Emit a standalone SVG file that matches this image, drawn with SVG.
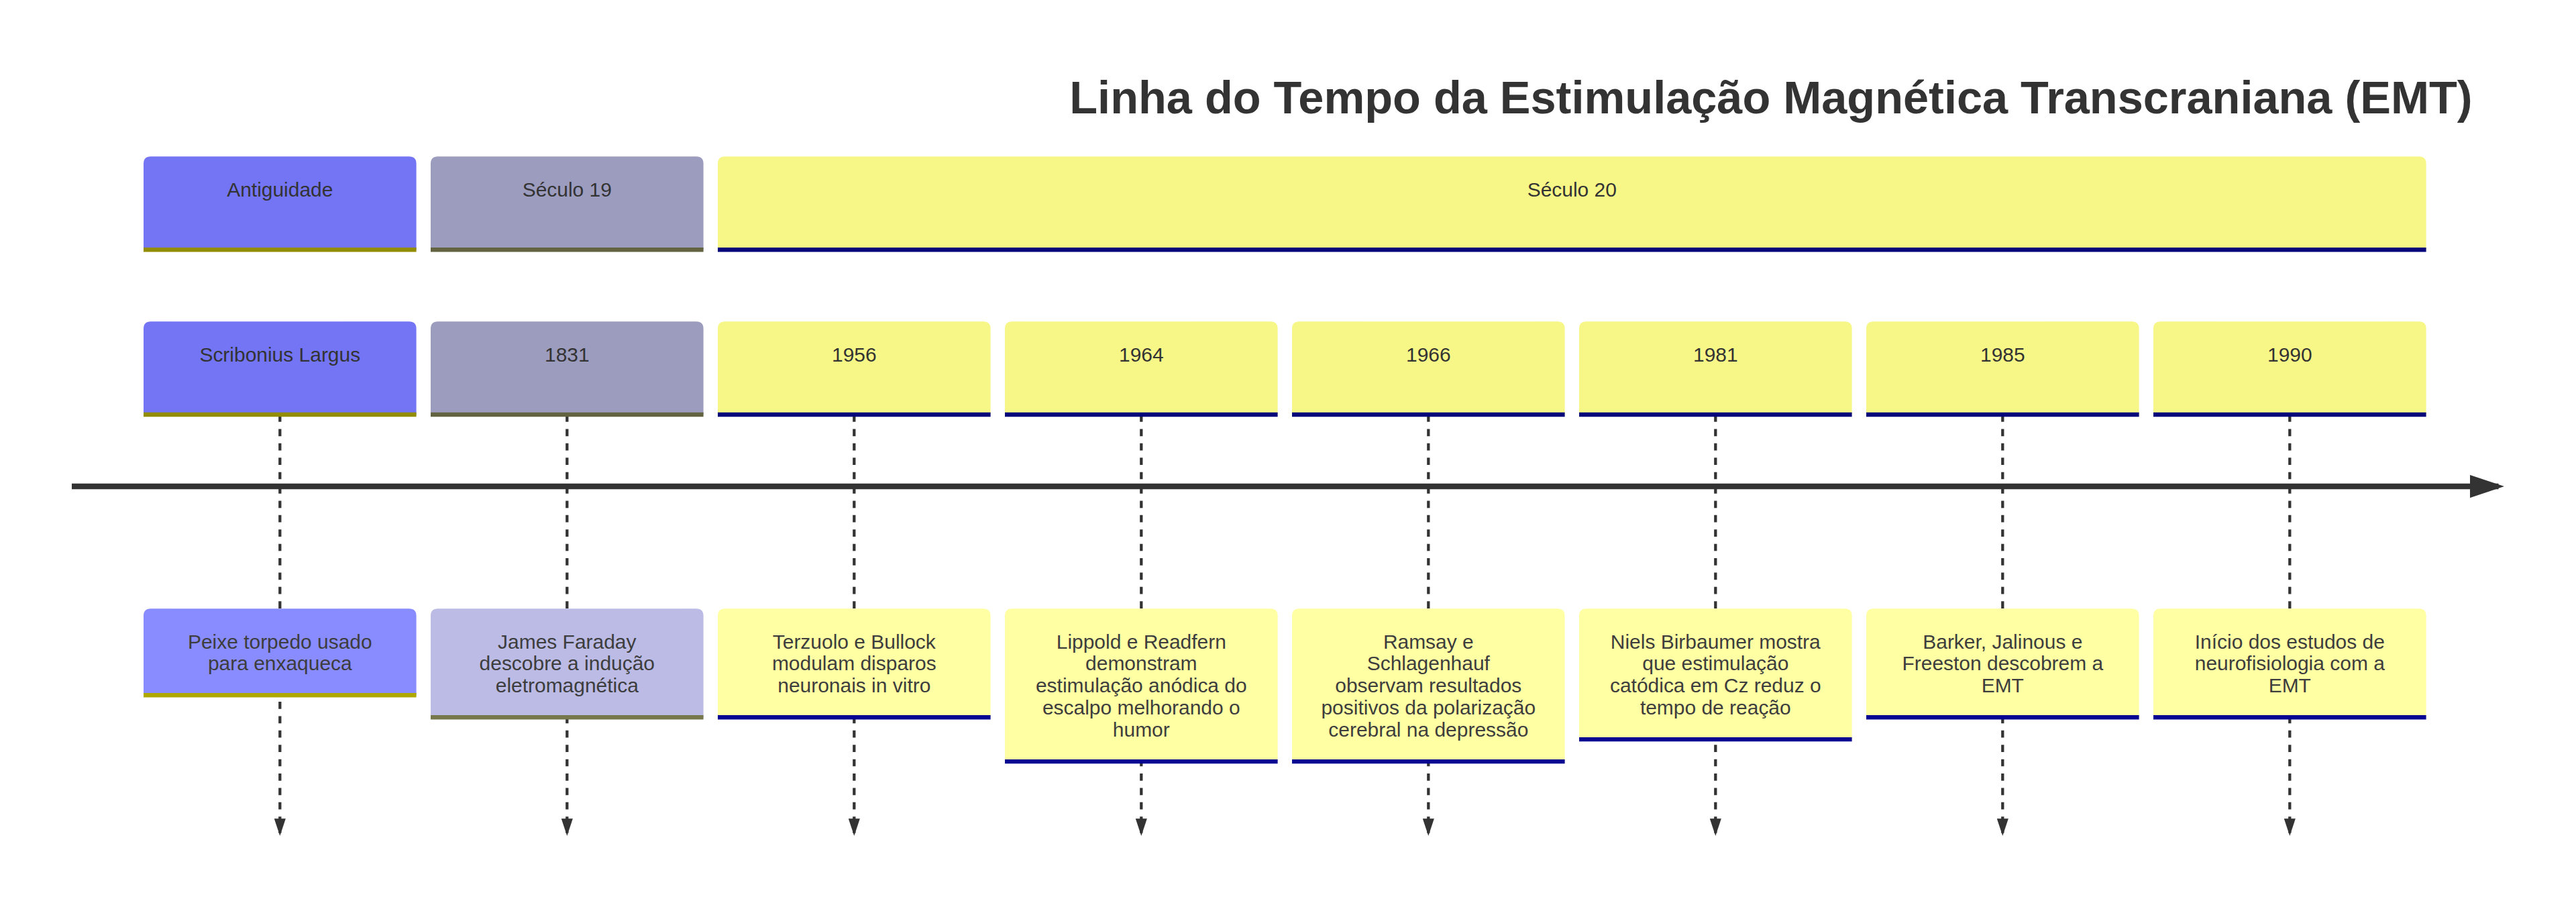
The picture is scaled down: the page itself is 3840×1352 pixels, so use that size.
<svg xmlns="http://www.w3.org/2000/svg" width="3840" height="1352" viewBox="0 0 3840 1352">
<style>
text{font-family:"Liberation Sans",Arial,sans-serif;}
.t{font-size:14px;fill:#333;text-anchor:middle;dominant-baseline:middle;}
.te{font-size:14px;fill:#3d3d3d;text-anchor:middle;dominant-baseline:middle;}
.title{font-size:32px;font-weight:bold;fill:#333;}
.s0 path{fill:#7375F5}.s0 line{stroke:#918C00;stroke-width:3}
.s1 path{fill:#9C9CBF}.s1 line{stroke:#636341;stroke-width:3}
.s2 path{fill:#F7F788}.s2 line{stroke:#04047A;stroke-width:3}
.e0 path{fill:#898CFF}.e0 line{stroke:#AEA800;stroke-width:3}
.e1 path{fill:#BBBBE5}.e1 line{stroke:#77774E;stroke-width:3}
.e2 path{fill:#FFFFA3}.e2 line{stroke:#050592;stroke-width:3}
.dash{stroke:#333;stroke-width:2;stroke-dasharray:5,5;fill:none;marker-end:url(#arrowhead)}
.axis{stroke:#333;stroke-width:4;fill:none;marker-end:url(#arrowhead)}
</style>
<defs>
<marker id="arrowhead" refX="5" refY="2" markerWidth="6" markerHeight="4" orient="auto"><path d="M0,0 V4 L6,2 Z" fill="#333"/></marker>
</defs>
<rect width="3840" height="1352" fill="#fff"/>
<g transform="translate(0,126.3) scale(2.14)">
<text class="title" x="745" y="20">Linha do Tempo da Estimulação Magnética Transcraniana (EMT)</text>

<g id="connectors">
<line class="dash" x1="195" y1="229.8" x2="195" y2="521.2"/>
<line class="dash" x1="395" y1="229.8" x2="395" y2="521.2"/>
<line class="dash" x1="595" y1="229.8" x2="595" y2="521.2"/>
<line class="dash" x1="795" y1="229.8" x2="795" y2="521.2"/>
<line class="dash" x1="995" y1="229.8" x2="995" y2="521.2"/>
<line class="dash" x1="1195" y1="229.8" x2="1195" y2="521.2"/>
<line class="dash" x1="1395" y1="229.8" x2="1395" y2="521.2"/>
<line class="dash" x1="1595" y1="229.8" x2="1595" y2="521.2"/>
</g>

<!-- sections -->
<g id="section-antiguidade" class="s0" transform="translate(100,50)">
<path d="M0 59.9 v-54.9 q0,-5 5,-5 h180 q5,0 5,5 v59.9 H0 Z"/><line x1="0" y1="64.9" x2="190" y2="64.9"/>
<text class="t" x="95" y="10"><tspan x="95" dy="14">Antiguidade</tspan></text>
</g>
<g id="section-seculo19" class="s1" transform="translate(300,50)">
<path d="M0 59.9 v-54.9 q0,-5 5,-5 h180 q5,0 5,5 v59.9 H0 Z"/><line x1="0" y1="64.9" x2="190" y2="64.9"/>
<text class="t" x="95" y="10"><tspan x="95" dy="14">Século 19</tspan></text>
</g>
<g id="section-seculo20" class="s2" transform="translate(500,50)">
<path d="M0 59.9 v-54.9 q0,-5 5,-5 h1180 q5,0 5,5 v59.9 H0 Z"/><line x1="0" y1="64.9" x2="1190" y2="64.9"/>
<text class="t" x="595" y="10"><tspan x="595" dy="14">Século 20</tspan></text>
</g>

<!-- tasks -->
<g id="task-scribonius" class="s0" transform="translate(100,164.9)">
<path d="M0 59.9 v-54.9 q0,-5 5,-5 h180 q5,0 5,5 v59.9 H0 Z"/><line x1="0" y1="64.9" x2="190" y2="64.9"/>
<text class="t" x="95" y="10"><tspan x="95" dy="14">Scribonius Largus</tspan></text>
</g>
<g id="task-1831" class="s1" transform="translate(300,164.9)">
<path d="M0 59.9 v-54.9 q0,-5 5,-5 h180 q5,0 5,5 v59.9 H0 Z"/><line x1="0" y1="64.9" x2="190" y2="64.9"/>
<text class="t" x="95" y="10"><tspan x="95" dy="14">1831</tspan></text>
</g>
<g id="task-1956" class="s2" transform="translate(500,164.9)">
<path d="M0 59.9 v-54.9 q0,-5 5,-5 h180 q5,0 5,5 v59.9 H0 Z"/><line x1="0" y1="64.9" x2="190" y2="64.9"/>
<text class="t" x="95" y="10"><tspan x="95" dy="14">1956</tspan></text>
</g>
<g id="task-1964" class="s2" transform="translate(700,164.9)">
<path d="M0 59.9 v-54.9 q0,-5 5,-5 h180 q5,0 5,5 v59.9 H0 Z"/><line x1="0" y1="64.9" x2="190" y2="64.9"/>
<text class="t" x="95" y="10"><tspan x="95" dy="14">1964</tspan></text>
</g>
<g id="task-1966" class="s2" transform="translate(900,164.9)">
<path d="M0 59.9 v-54.9 q0,-5 5,-5 h180 q5,0 5,5 v59.9 H0 Z"/><line x1="0" y1="64.9" x2="190" y2="64.9"/>
<text class="t" x="95" y="10"><tspan x="95" dy="14">1966</tspan></text>
</g>
<g id="task-1981" class="s2" transform="translate(1100,164.9)">
<path d="M0 59.9 v-54.9 q0,-5 5,-5 h180 q5,0 5,5 v59.9 H0 Z"/><line x1="0" y1="64.9" x2="190" y2="64.9"/>
<text class="t" x="95" y="10"><tspan x="95" dy="14">1981</tspan></text>
</g>
<g id="task-1985" class="s2" transform="translate(1300,164.9)">
<path d="M0 59.9 v-54.9 q0,-5 5,-5 h180 q5,0 5,5 v59.9 H0 Z"/><line x1="0" y1="64.9" x2="190" y2="64.9"/>
<text class="t" x="95" y="10"><tspan x="95" dy="14">1985</tspan></text>
</g>
<g id="task-1990" class="s2" transform="translate(1500,164.9)">
<path d="M0 59.9 v-54.9 q0,-5 5,-5 h180 q5,0 5,5 v59.9 H0 Z"/><line x1="0" y1="64.9" x2="190" y2="64.9"/>
<text class="t" x="95" y="10"><tspan x="95" dy="14">1990</tspan></text>
</g>

<!-- events -->
<g id="event-peixe" class="e0" transform="translate(100,364.9)">
<path d="M0 55.3 v-50.3 q0,-5 5,-5 h180 q5,0 5,5 v55.3 H0 Z"/><line x1="0" y1="60.3" x2="190" y2="60.3"/>
<text class="te" x="95" y="10"><tspan x="95" y="24">Peixe torpedo usado</tspan><tspan x="95" y="39.4">para enxaqueca</tspan></text>
</g>
<g id="event-faraday" class="e1" transform="translate(300,364.9)">
<path d="M0 70.7 v-65.7 q0,-5 5,-5 h180 q5,0 5,5 v70.7 H0 Z"/><line x1="0" y1="75.7" x2="190" y2="75.7"/>
<text class="te" x="95" y="10"><tspan x="95" y="24">James Faraday</tspan><tspan x="95" y="39.4">descobre a indução</tspan><tspan x="95" y="54.8">eletromagnética</tspan></text>
</g>
<g id="event-terzuolo" class="e2" transform="translate(500,364.9)">
<path d="M0 70.7 v-65.7 q0,-5 5,-5 h180 q5,0 5,5 v70.7 H0 Z"/><line x1="0" y1="75.7" x2="190" y2="75.7"/>
<text class="te" x="95" y="10"><tspan x="95" y="24">Terzuolo e Bullock</tspan><tspan x="95" y="39.4">modulam disparos</tspan><tspan x="95" y="54.8">neuronais in vitro</tspan></text>
</g>
<g id="event-lippold" class="e2" transform="translate(700,364.9)">
<path d="M0 101.5 v-96.5 q0,-5 5,-5 h180 q5,0 5,5 v101.5 H0 Z"/><line x1="0" y1="106.5" x2="190" y2="106.5"/>
<text class="te" x="95" y="10"><tspan x="95" y="24">Lippold e Readfern</tspan><tspan x="95" y="39.4">demonstram</tspan><tspan x="95" y="54.8">estimulação anódica do</tspan><tspan x="95" y="70.2">escalpo melhorando o</tspan><tspan x="95" y="85.6">humor</tspan></text>
</g>
<g id="event-ramsay" class="e2" transform="translate(900,364.9)">
<path d="M0 101.5 v-96.5 q0,-5 5,-5 h180 q5,0 5,5 v101.5 H0 Z"/><line x1="0" y1="106.5" x2="190" y2="106.5"/>
<text class="te" x="95" y="10"><tspan x="95" y="24">Ramsay e</tspan><tspan x="95" y="39.4">Schlagenhauf</tspan><tspan x="95" y="54.8">observam resultados</tspan><tspan x="95" y="70.2">positivos da polarização</tspan><tspan x="95" y="85.6">cerebral na depressão</tspan></text>
</g>
<g id="event-birbaumer" class="e2" transform="translate(1100,364.9)">
<path d="M0 86.1 v-81.1 q0,-5 5,-5 h180 q5,0 5,5 v86.1 H0 Z"/><line x1="0" y1="91.1" x2="190" y2="91.1"/>
<text class="te" x="95" y="10"><tspan x="95" y="24">Niels Birbaumer mostra</tspan><tspan x="95" y="39.4">que estimulação</tspan><tspan x="95" y="54.8">catódica em Cz reduz o</tspan><tspan x="95" y="70.2">tempo de reação</tspan></text>
</g>
<g id="event-barker" class="e2" transform="translate(1300,364.9)">
<path d="M0 70.7 v-65.7 q0,-5 5,-5 h180 q5,0 5,5 v70.7 H0 Z"/><line x1="0" y1="75.7" x2="190" y2="75.7"/>
<text class="te" x="95" y="10"><tspan x="95" y="24">Barker, Jalinous e</tspan><tspan x="95" y="39.4">Freeston descobrem a</tspan><tspan x="95" y="54.8">EMT</tspan></text>
</g>
<g id="event-inicio" class="e2" transform="translate(1500,364.9)">
<path d="M0 70.7 v-65.7 q0,-5 5,-5 h180 q5,0 5,5 v70.7 H0 Z"/><line x1="0" y1="75.7" x2="190" y2="75.7"/>
<text class="te" x="95" y="10"><tspan x="95" y="24">Início dos estudos de</tspan><tspan x="95" y="39.4">neurofisiologia com a</tspan><tspan x="95" y="54.8">EMT</tspan></text>
</g>

<g id="axis">
<line class="axis" x1="50" y1="279.8" x2="1740.4" y2="279.8"/>
</g>
</g>
</svg>
